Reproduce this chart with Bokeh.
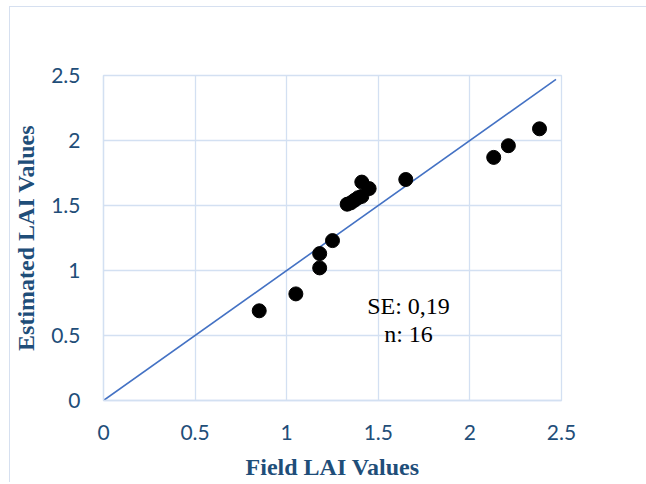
from bokeh.plotting import figure
from bokeh.models import Range1d, Label, FixedTicker
from bokeh.embed import file_html
from bokeh.resources import INLINE

# Data
field_lai = [0.85, 1.05, 1.18, 1.18, 1.25, 1.33, 1.35, 1.37, 1.39, 1.41, 1.41, 1.45, 1.65, 2.13, 2.21, 2.38]
estimated_lai = [0.69, 0.82, 1.02, 1.13, 1.23, 1.51, 1.52, 1.54, 1.56, 1.57, 1.68, 1.63, 1.70, 1.87, 1.96, 2.09]
line_x = [0, 2.47]
line_y = [0, 2.47]
ticks = [0, 0.5, 1, 1.5, 2, 2.5]
tick_labels = {0: "0", 0.5: "0.5", 1: "1", 1.5: "1.5", 2: "2", 2.5: "2.5"}
annot_lines = ["SE: 0,19", "n: 16"]

GRID = "#D3E0F2"
TICK_COLOR = "#1F4E79"
TITLE_COLOR = "#1F4E79"

p = figure(width=636, height=474, output_backend="svg", toolbar_location=None,
           x_range=Range1d(0, 2.5), y_range=Range1d(0, 2.5),
           frame_width=458, frame_height=325,
           min_border_left=93, min_border_top=68, min_border_right=85, min_border_bottom=81,
           styles={"border-left": "1px solid #D6E0F0", "border-top": "1px solid #D6E0F0",
                   "margin-left": "9px", "margin-top": "6px"})

p.outline_line_color = GRID
p.outline_line_width = 1.3

for ax in (p.xaxis[0], p.yaxis[0]):
    ax.ticker = FixedTicker(ticks=ticks)
    ax.major_label_overrides = tick_labels
    ax.axis_line_color = GRID
    ax.axis_line_width = 1.3
    ax.major_tick_line_color = None
    ax.minor_tick_line_color = None
    ax.major_tick_out = 0
    ax.major_tick_in = 0
    ax.major_label_text_font = "Lato"
    ax.major_label_text_font_size = "21px"
    ax.major_label_text_color = TICK_COLOR
    ax.axis_label_text_font = "Liberation Serif"
    ax.axis_label_text_font_style = "bold"
    ax.axis_label_text_font_size = "24px"
    ax.axis_label_text_color = TITLE_COLOR

p.xaxis.axis_label = "Field LAI Values"
p.yaxis.axis_label = "Estimated LAI Values"
p.xaxis.major_label_standoff = 24
p.yaxis.major_label_standoff = 23
p.xaxis.axis_label_standoff = 11
p.yaxis.axis_label_standoff = 9

p.xgrid.ticker = FixedTicker(ticks=ticks)
p.ygrid.ticker = FixedTicker(ticks=ticks)
p.xgrid.grid_line_color = GRID
p.ygrid.grid_line_color = GRID
p.xgrid.grid_line_width = 1.3
p.ygrid.grid_line_width = 1.3

p.line(line_x, line_y, line_color="#4472C4", line_width=1.6)
p.scatter(field_lai, estimated_lai, size=14, fill_color="black", line_color="black")

p.add_layout(Label(x=1.665, y=0.73, text=annot_lines[0], text_align="center", text_baseline="middle",
                   text_font="Liberation Serif", text_font_size="24px", text_color="black"))
p.add_layout(Label(x=1.665, y=0.51, text=annot_lines[1], text_align="center", text_baseline="middle",
                   text_font="Liberation Serif", text_font_size="24px", text_color="black"))

open("out.html", "w").write(file_html(p, INLINE))
